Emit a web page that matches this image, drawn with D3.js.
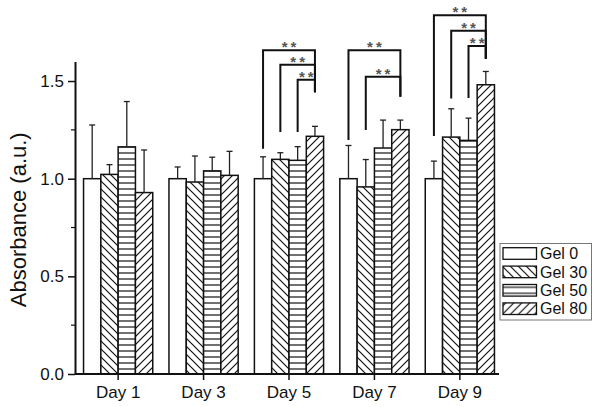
<!DOCTYPE html>
<html>
<head>
<meta charset="utf-8">
<script src="https://cdn.jsdelivr.net/npm/d3@7"></script>
<style>
  html, body { margin: 0; padding: 0; background: #fff; }
  svg { display: block; font-family: "Liberation Sans", Arial, Helvetica, sans-serif; }
</style>
</head>
<body>
<svg id="chart" width="600" height="407"></svg>
<script>
// ---------- data ----------
const days = ["Day 1", "Day 3", "Day 5", "Day 7", "Day 9"];
const groups = ["Gel 0", "Gel 30", "Gel 50", "Gel 80"];
const gel0  = [1.000, 1.000, 1.000, 1.000, 1.000];
const gel30 = [1.022, 0.983, 1.099, 0.958, 1.213];
const gel50 = [1.163, 1.040, 1.094, 1.157, 1.196];
const gel80 = [0.929, 1.017, 1.217, 1.251, 1.481];
const err0  = [0.275, 0.060, 0.112, 0.170, 0.090];
const err30 = [0.050, 0.133, 0.034, 0.140, 0.145];
const err50 = [0.232, 0.070, 0.070, 0.143, 0.114];
const err80 = [0.218, 0.123, 0.051, 0.049, 0.068];
const yTicks = [0, 0.5, 1.0, 1.5];
const yMinorTicks = [0.25, 0.75, 1.25];
const yLabel = "Absorbance (a.u.)";
// significance brackets (values in absorbance units)
const sigDay    = ["Day 5", "Day 5", "Day 5", "Day 7", "Day 7", "Day 9", "Day 9", "Day 9"];
const sigFrom   = ["Gel 0", "Gel 30", "Gel 50", "Gel 0", "Gel 30", "Gel 0", "Gel 30", "Gel 50"];
const sigTo     = ["Gel 80", "Gel 80", "Gel 80", "Gel 80", "Gel 80", "Gel 80", "Gel 80", "Gel 80"];
const sigTop    = [1.657, 1.584, 1.507, 1.657, 1.522, 1.837, 1.757, 1.679];
const sigLeftEnd  = [1.153, 1.239, 1.239, 1.198, 1.249, 1.218, 1.410, 1.413];
const sigRightEnd = [1.443, 1.443, 1.443, 1.420, 1.420, 1.614, 1.614, 1.614];
const sigLabel  = ["**", "**", "**", "**", "**", "**", "**", "**"];

const means = [gel0, gel30, gel50, gel80];
const errs = [err0, err30, err50, err80];
const rows = [];
days.forEach((d, i) => groups.forEach((g, j) => rows.push({ day: d, group: g, value: means[j][i], err: errs[j][i] })));

// ---------- layout ----------
const svg = d3.select("#chart");
const x = d3.scaleBand().domain(days).range([75, 503]).paddingInner(0.19).paddingOuter(0.1);
const xs = d3.scaleBand().domain(groups).range([0, x.bandwidth()]);
const y = d3.scaleLinear().domain([0, 1.6]).range([374, 61.5]);
const FONT = '"Liberation Sans", Arial, Helvetica, sans-serif';

// ---------- patterns ----------
const defs = svg.append("defs");
const pBack = defs.append("pattern").attr("id", "p30").attr("patternUnits", "userSpaceOnUse")
  .attr("width", 8).attr("height", 8);
pBack.append("rect").attr("width", 8).attr("height", 8).attr("fill", "#fff");
pBack.append("path").attr("d", "M-2,-2 L10,10 M-2,6 L2,10 M6,-2 L10,2")
  .attr("stroke", "#111").attr("stroke-width", 1.2);
const pHor = defs.append("pattern").attr("id", "p50").attr("patternUnits", "userSpaceOnUse")
  .attr("width", 8).attr("height", 6);
pHor.append("rect").attr("width", 8).attr("height", 6).attr("fill", "#fff");
pHor.append("path").attr("d", "M0,3 L8,3").attr("stroke", "#111").attr("stroke-width", 1.2);
const pFwd = defs.append("pattern").attr("id", "p80").attr("patternUnits", "userSpaceOnUse")
  .attr("width", 8).attr("height", 8);
pFwd.append("rect").attr("width", 8).attr("height", 8).attr("fill", "#fff");
pFwd.append("path").attr("d", "M-2,10 L10,-2 M-2,2 L2,-2 M6,10 L10,6")
  .attr("stroke", "#111").attr("stroke-width", 1.2);
const fillOf = d3.scaleOrdinal().domain(groups).range(["#fff", "url(#p30)", "url(#p50)", "url(#p80)"]);

// ---------- bars ----------
const gBars = svg.append("g");
gBars.selectAll("rect.bar").data(rows).join("rect")
  .attr("class", "bar")
  .attr("x", d => x(d.day) + xs(d.group))
  .attr("y", d => y(d.value))
  .attr("width", xs.bandwidth())
  .attr("height", d => y(0) - y(d.value))
  .attr("fill", d => fillOf(d.group))
  .attr("stroke", "#111").attr("stroke-width", 1.5);

// error bars
const gErr = svg.append("g").attr("stroke", "#222").attr("stroke-width", 1.3);
rows.forEach(d => {
  const cx = x(d.day) + xs(d.group) + xs.bandwidth() / 2;
  gErr.append("line").attr("x1", cx).attr("x2", cx).attr("y1", y(d.value)).attr("y2", y(d.value + d.err));
  gErr.append("line").attr("x1", cx - 3).attr("x2", cx + 3).attr("y1", y(d.value + d.err)).attr("y2", y(d.value + d.err));
});

// ---------- axes ----------
const yAxis = d3.axisLeft(y).tickValues(yTicks).tickFormat(d3.format(".1f")).tickSize(7).tickPadding(4).tickSizeOuter(0);
const gy = svg.append("g").attr("transform", "translate(75,0)").call(yAxis);
gy.selectAll("text").attr("font-size", 17).attr("font-family", FONT).attr("fill", "#111");
gy.selectAll(".tick line").attr("stroke", "#111").attr("stroke-width", 1.5);
gy.select(".domain").attr("stroke", "#111").attr("stroke-width", 2);
svg.append("g").selectAll("line").data(yMinorTicks).join("line")
  .attr("x1", 71).attr("x2", 75).attr("y1", d => y(d)).attr("y2", d => y(d))
  .attr("stroke", "#111").attr("stroke-width", 1.2);

const xAxis = d3.axisBottom(x).tickSize(6).tickPadding(6).tickSizeOuter(0);
const gx = svg.append("g").attr("transform", `translate(0,${y(0)})`).call(xAxis);
gx.select(".domain").remove();
gx.selectAll("text").attr("font-size", 17).attr("font-family", FONT).attr("fill", "#111");
gx.selectAll(".tick line").attr("stroke", "#111").attr("stroke-width", 1.5);
svg.append("line").attr("x1", 75).attr("x2", 499).attr("y1", y(0)).attr("y2", y(0))
  .attr("stroke", "#111").attr("stroke-width", 2);

svg.append("text")
  .attr("transform", `translate(26,${(y(0) + y(1.6)) / 2 + 2}) rotate(-90)`)
  .attr("text-anchor", "middle")
  .attr("font-size", 22).attr("font-family", FONT).attr("fill", "#111")
  .text(yLabel);

// ---------- significance brackets ----------
const gSig = svg.append("g");
sigDay.forEach((d, i) => {
  const xl = x(d) + xs(sigFrom[i]) + xs.bandwidth() / 2;
  const xr = x(d) + xs(sigTo[i]) + xs.bandwidth() / 2;
  const yt = y(sigTop[i]);
  gSig.append("path")
    .attr("d", `M${xl},${y(sigLeftEnd[i])} L${xl},${yt} L${xr},${yt} L${xr},${y(sigRightEnd[i])}`)
    .attr("fill", "none").attr("stroke", "#111").attr("stroke-width", 2);
  gSig.append("text")
    .attr("x", (xl + xr) / 2 + 1.5).attr("y", yt + 2)
    .attr("text-anchor", "middle")
    .attr("font-size", 15).attr("font-family", FONT).attr("font-weight", "bold")
    .attr("letter-spacing", 3)
    .attr("fill", "#555")
    .text(sigLabel[i]);
});

// ---------- legend ----------
const lg = svg.append("g").attr("transform", "translate(500,243.5)");
lg.append("rect").attr("width", 91.5).attr("height", 76.5)
  .attr("fill", "#fff").attr("stroke", "#777").attr("stroke-width", 1);
const item = lg.selectAll("g.item").data(groups).join("g").attr("class", "item")
  .attr("transform", (d, i) => `translate(0,${10 + i * 18.4})`);
item.append("rect").attr("x", 3).attr("y", -5.8).attr("width", 33.5).attr("height", 11.6)
  .attr("fill", d => fillOf(d)).attr("stroke", "#111").attr("stroke-width", 1.3);
item.append("text").attr("x", 40).attr("y", 0).attr("dy", "0.36em")
  .attr("font-size", 16).attr("font-family", FONT).attr("fill", "#111")
  .text(d => d);
</script>
</body>
</html>
